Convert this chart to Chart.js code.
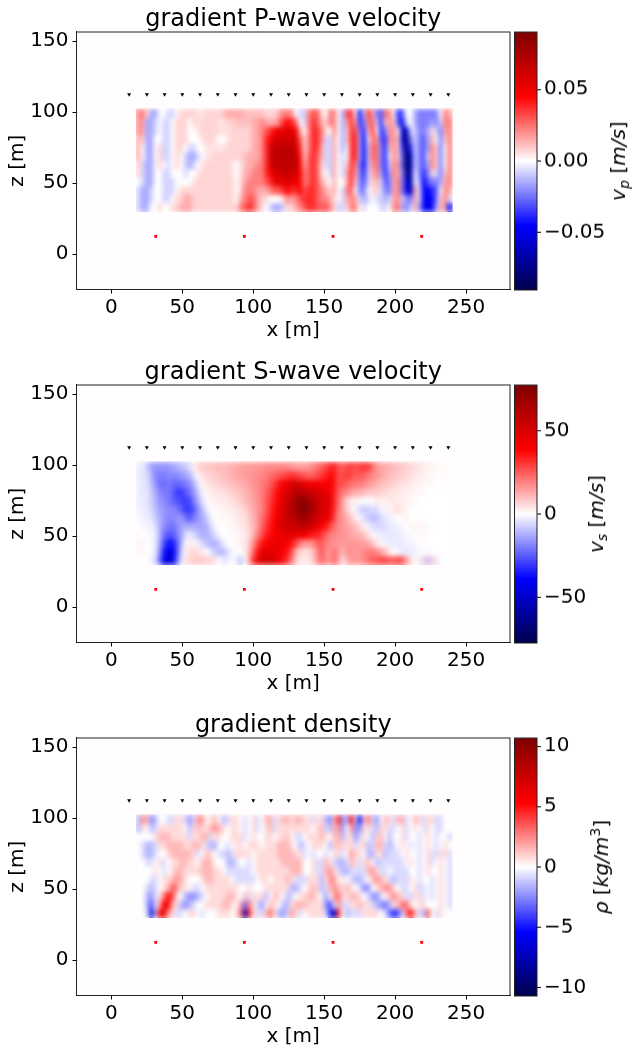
<!DOCTYPE html>
<html>
<head>
<meta charset="utf-8">
<title>gradients</title>
<script src="https://cdn.jsdelivr.net/npm/chart.js@4/dist/chart.umd.min.js"></script>
<style>
    html, body { margin: 0; padding: 0; background: #fff; }
    #page { position: relative; width: 640px; height: 1051px; overflow: hidden; }
    canvas { position: absolute; display: block; }
</style>
</head>
<body>
<div id="page"></div>
<script>
// 网格中心坐标 [m]
const xCells = [19.5,22.5,25.5,28.5,31.5,34.5,37.5,40.5,43.5,46.5,49.5,52.5,55.5,58.5,61.5,64.5,67.5,70.5,73.5,76.5,79.5,82.5,85.5,88.5,91.5,94.5,97.5,100.5,103.5,106.5,109.5,112.5,115.5,118.5,121.5,124.5,127.5,130.5,133.5,136.5,139.5,142.5,145.5,148.5,151.5,154.5,157.5,160.5,163.5,166.5,169.5,172.5,175.5,178.5,181.5,184.5,187.5,190.5,193.5,196.5,199.5,202.5,205.5,208.5,211.5,214.5,217.5,220.5,223.5,226.5,229.5,232.5,235.5,238.5];
const zCells = [99,93,87,81,75,69,63,57,51,45,39,33];

// 检波器和震源
const xReceivers = [12.5,25,37.5,50,62.5,75,87.5,100,112.5,125,137.5,150,162.5,175,187.5,200,212.5,225,237.5];
const zReceivers = [112.5,112.5,112.5,112.5,112.5,112.5,112.5,112.5,112.5,112.5,112.5,112.5,112.5,112.5,112.5,112.5,112.5,112.5,112.5];
const xSources = [31.25,93.75,156.25,218.75];
const zSources = [12.5,12.5,12.5,12.5];

// P 波速度梯度, 单位 0.0075 m/s
const gradP = [
[3,3,1,-2,-2,0,0,-1,-1,0,1,1,1,1,0.7,0.7,1,1,1,1,1.5,2,2,2,2,1.5,1.5,1.5,1.5,1.5,1,1,1,2,3,3, 3,0,-1,-1,3,4,4,1,0,3,3,0,-2,4,5,0,-6,-1,5,2,-3,-4,3,3,0,-5,-4,0,0,-2,-3,-3,-3,-3,-3,0,3,2],
[3,2,-2,-2,-1,0,-1,-1,0,1,1,1,0,1,0.7,1,1,1,1,0.7,0.7,1,1,1.5,1.5,1.5,1.5,2,2,3,2,2,2,3,5,6, 5,4,0,-1,3,5,4,2,1,3,3,0,-2,2,5,2,-5,-3,3,4,-1,-5,1,3,1,-4,-7,-1,0,-2,-3,-3,-3,-2,-3,-1,3,3],
[3,2,-2,-2,-1,0,-1,-1,0,1,1,1,0,0,0.7,1,1,1,1,0.7,0.7,0.7,1,1,1,1,1,2,2,3,4,5,6,7,7,8, 7,7,2,0,3,5,5,3,1,0,3,0,-2,1,5,4,-3,-5,1,5,0,-5,-3,2,3,0,-8,-8,-1,-1,-3,-3,-2,1,-1,-3,2,3],
[2,1,-2,-2,0,0,-1,-1,0,1,1,1,0,0,0,0.7,1,1,0.7,0,0,0.7,1,1,1,1,1,2,2,3,5,6,8,8,8,8, 8,8,4,1,3,5,5,3,-1,-1,2,0,-2,1,5,5,-2,-6,0,4,2,-4,-5,2,3,1,-7,-11,-3,-1,-3,-4,-2,2,0,-3,1,3],
[2,0,-2,-2,0,1,-1,-1,0,1,1,0,-1,-1,0,0,0.7,0.7,0.7,0.5,0.7,1,1,1,1,1,1,2,2,3,5,8,9,9,9,9, 9,8,5,1,3,5,5,2,-1,-1,2,0,-2,0,5,5,-2,-6,-1,4,3,-3,-5,1,3,1,-5,-11,-5,-1,-3,-4,-2,3,1,-3,0,3],
[2,0,-2,-2,0,1,-1,-1,0,1,0,-1,-2,-2,-1,0,0.7,0.7,1,1,1,1,1,1,1,1.5,2,2,2,3,5,8,9,9,9,9, 9,9,6,1,4,5,4,2,-1,-1,2,0,-1,0,5,5,-2,-6,-1,4,3,-3,-5,0,3,1,-4,-12,-7,-1,-3,-4,-1,3,1,-3,0,3],
[1,-1,-2,-2,0,1,0,-1,0,1,0,-1,-2,-1,0,0.7,1,1,1,1,1,1,0.7,0,0.7,1.5,2,2,3,3,5,8,9,9,9,9, 9,9,6,2,4,5,4,1,-1,-1,2,0,-1,1,5,3,-3,-6,-1,3,3,-3,-5,-1,3,2,-4,-12,-8,-1,-3,-4,-2,3,1,-3,0,3],
[1,-1,-2,-2,0,0,-1,-1,0,0,0,-1,0,0,0.7,1,1,1,1,1,1,1,0.7,0,0.7,2,2,3,3,3,5,6,8,8,8,9, 8,8,6,3,4,5,4,1,0,-1,2,0,-1,2,5,2,-3,-5,-1,2,3,-2,-5,-2,3,2,-3,-11,-8,0,-3,-5,-3,1,-1,-3,1,3],
[0,-1,-2,-2,0,0,-1,-1,-1,0,0,0,0,0.7,1,1,1,1,1,1,1,1,1,0,1,2,3,3,3,3,4,5,7,7,7,8, 7,7,6,3,4,5,4,2,1,0,2,0,0,2,5,1,-3,-4,-1,1,2,-1,-4,-3,2,3,-3,-8,-9,0,-2,-6,-4,-3,-3,-2,2,3],
[-1,-2,-2,-1,0,0,-1,-1,-1,0,1,1,1,1,1,1,1,1,1,1,1,1,1,0,1,3,3,3,2,2,2,3,4,4,5,6, 5,5,6,4,5,5,4,3,2,1,2,0,-1,3,4,0,-3,-3,0,1,1,-1,-3,-3,2,3,-3,-7,-8,2,-1,-6,-6,-5,-4,0,3,2],
[-1,-2,-2,-1,0,0,-1,-1,0,1,1,2,2,1,1,1,1,1,1,1,1,1,1,0,2,3,4,4,2,1,1,0,0,0,1,3, 2,3,4,5,5,5,4,3,3,2,1,0,-1,2,3,2,-1,-2,-1,0,-1,-1,-2,-1,2,3,-1,-3,-3,2,-1,-6,-7,-6,-3,1,3,-1],
[-1,-2,-2,0,0,1,0,0,1,1,2,2,2,1,1,1,1,1,1,1,1,1,1,1,3,4,5,4,2,1,0,-1,-2,-2,-1,1, 1,2,3,4,5,5,4,4,4,3,1,-1,-1,1,3,3,0,-1,0,0,0,-1,-1,0,3,3,-2,-3,-1,2,-2,-6,-7,-6,-2,2,2,-6]
];

// S 波速度梯度, 单位 m/s
const gradS = [
[-3,-3,-8,-14,-16,-16,-16,-16,-14,-12,-10,-8,-5,2,6,8,8,9,10,10,10,11,12,13,14,15,15,16,16,16,18,18,18,18,18,18, 16,15,15,15,16,18,22,24,28,32,34,26,24,28,30,26,30,30,30,22,16,14,12,12,10,9,8,7,6,5,4,3,2,2,1,0,1,0],
[-3,-4,-5,-12,-18,-20,-20,-18,-18,-18,-16,-14,-12,-4,1,5,6,7,8,9,10,11,12,13,14,15,16,16,18,18,20,22,24,26,28,30, 32,30,28,26,24,24,28,30,34,38,36,26,28,30,28,24,26,24,20,18,16,14,12,10,9,8,7,6,5,4,3,2,2,1,1,0,1,0],
[-3,-4,-4,-10,-16,-22,-22,-20,-22,-24,-22,-20,-18,-12,-3,2,4,5,6,7,8,9,10,11,12,13,15,16,18,20,22,25,30,36,42,46, 50,52,50,46,44,42,42,40,40,42,36,26,28,24,22,20,20,18,16,14,12,10,9,8,7,5,5,4,3,2,2,1,1,1,0,0,1,0],
[-3,-4,-4,-8,-13,-18,-20,-20,-24,-30,-30,-26,-22,-16,-8,-1,2,3,4,4,5,6,7,8,10,11,13,15,17,20,24,28,34,40,45,50, 56,62,60,58,56,54,52,48,46,44,34,24,20,18,14,12,12,10,8,8,8,7,6,5,4,3,3,2,2,1,1,1,0,0,0,0,0,0],
[-3,-3,-4,-7,-12,-16,-18,-20,-24,-26,-28,-30,-28,-20,-12,-5,0,2,2,3,3,4,5,6,8,10,12,14,17,20,25,30,36,42,48,54, 60,68,72,72,68,62,56,52,50,46,34,22,14,6,3,2,-1,0,-1,0,3,2,2,3,4,3,3,2,1,1,0,0,0,0,0,0,0,0],
[-2,-3,-4,-6,-10,-14,-16,-18,-18,-20,-24,-30,-30,-26,-16,-10,-3,0,1,1,2,2,3,4,5,7,10,13,16,20,25,32,38,44,50,56, 60,68,74,76,72,64,56,50,48,44,32,20,14,8,2,-2,-6,-8,-7,-5,-6,-1,-2,1,4,5,3,2,0,0,0,0,0,0,0,0,0,0],
[-1,-2,-3,-4,-8,-12,-16,-18,-18,-16,-16,-20,-26,-20,-16,-13,-8,-2,0,1,1,1,2,3,4,5,8,12,16,22,28,34,40,46,52,56, 58,62,66,68,64,58,52,48,46,42,28,18,16,12,8,3,-1,-5,-8,-10,-9,-6,-3,-3,-1,0,1,2,0,0,1,0,0,0,0,0,0,0],
[0,-1,-2,-2,-5,-12,-18,-20,-22,-18,-14,-12,-13,-12,-13,-14,-12,-6,-1,0,0,1,1,2,3,4,7,11,16,24,30,36,42,46,50,54, 52,54,58,58,54,50,46,40,36,28,22,18,16,14,12,10,6,2,-2,-5,-6,-6,-5,-3,-3,-2,-1,0,1,2,1,1,-1,0,0,0,0,0],
[1,0,-1,-1,-3,-12,-22,-26,-26,-20,-14,-6,-2,-6,-10,-12,-12,-10,-5,-1,0,0,1,1,2,3,6,12,20,28,34,38,42,44,46,48, 46,44,44,42,38,34,34,30,24,20,18,18,16,15,14,12,12,9,5,1,-2,-3,-3,-4,-3,-3,-2,-1,-1,0,1,2,0,0,0,0,0,0],
[2,1,0,-1,-3,-14,-28,-36,-36,-26,-12,-1,3,2,-2,-6,-9,-12,-12,-8,-3,0,0,1,2,4,8,18,28,36,40,42,44,44,42,42, 36,28,20,16,16,18,24,26,20,18,16,16,15,16,16,16,15,15,13,9,4,1,-2,-3,-3,-3,-3,-2,-2,-1,0,1,0,0,0,0,0,0],
[2,1,0,-1,-4,-18,-36,-46,-44,-28,-8,2,5,6,5,3,0,-4,-8,-11,-10,-5,-1,-1,0,3,10,24,36,44,48,48,46,44,40,36, 26,12,6,5,5,10,18,26,18,16,22,16,10,18,16,16,16,18,20,20,18,14,9,3,0,-2,-3,-3,-3,-2,-1,0,-1,0,0,0,0,0],
[0,0,0,-2,-6,-22,-40,-50,-44,-24,-4,4,6,8,8,8,7,6,4,0,-4,-3,0,-3,-10,0,14,32,44,52,54,52,48,42,36,30, 20,8,4,3,4,8,16,24,18,16,24,14,4,12,16,16,16,18,22,24,26,28,28,24,26,28,26,14,6,0,-3,8,-10,8,-4,0,0,0]
];

// 密度梯度, 单位 0.75 kg/m3
const gradRho = [
[-2,3,2,-3,-2,0,0,-1,-1,1,1,-1,-3,-1,3,3,0,1,2,0,-2,-1,1,1,0,-1,0,1,-1,0,2,2,-1,1,2,2, 1,2,2,1,1,-1,1,1,-2,-3,2,6,-3,-2,7,-1,-8,1,4,-1,-3,0,2,1,-1,2,2,-1,0,2,1,-1,1,1,-1,-1,0,0],
[-2,1,0,-2,-1,1,1,1,1,1,1,0,-2,1,2,1,1,2,3,2,1,0,1,1,0,-1,0,1,-1,0,1,2,-1,1,1,1, 1,1,1,1,1,0,1,2,-1,-2,2,3,-3,0,3,-3,-3,1,1,-1,-2,1,1,-1,-1,0,1,-1,0,1,0,-1,1,0,-1,-1,0,0],
[0,0,0,0,1,2,2,2,1,1,1,1,-1,1,1,2,2,-1,1,1,0,0,1,1,1,-1,0,1,0,0,1,1,0,1,1,2, 0,-1,-1,0,1,1,1,2,1,0,2,2,-2,1,1,-3,-1,1,0,-2,1,2,0,-2,0,0,1,-1,0,0,-1,0,1,0,-1,0,0,-1],
[0,-1,-2,-2,-1,1,1,2,2,2,2,1,1,2,2,1,-1,-2,-2,0,0,-1,0,1,1,0,1,1,1,0,1,1,1,2,2,2, 1,0,-2,-1,0,1,1,1,0,-2,1,2,1,1,1,-1,1,1,-2,-1,2,2,-1,-2,-1,0,1,0,-1,0,-1,0,1,0,-1,0,1,0],
[0,-1,-2,-2,-1,0,0,1,2,2,2,2,2,1,-1,0,2,1,0,-1,-1,-2,-1,1,1,1,1,0,1,1,1,1,1,2,2,2, 2,1,1,-1,0,-1,0,0,-1,0,1,1,-1,0,3,1,1,0,-2,-2,1,1,-2,-1,-1,-1,0,1,0,0,-1,0,1,-1,-1,1,1,-1],
[0,0,-1,-1,0,1,-1,0,1,1,2,2,1,1,0,2,2,2,0,0,0,-2,-2,-1,0,0,-1,0,1,1,1,1,1,1,2,2, 2,2,2,0,0,1,-1,-1,2,1,-1,-2,-2,-1,2,1,-1,1,2,0,-2,-1,-1,-1,-1,-1,-1,0,1,0,-1,0,1,-1,0,1,0,-1],
[0,0,0,0,1,0,-1,0,1,2,2,1,1,1,1,2,2,2,1,1,0,-1,-1,-1,-1,-1,-1,0,1,1,1,1,1,1,1,1, 2,2,2,0,0,1,-1,-1,2,3,1,-1,-2,-2,-1,-1,-1,-1,2,3,1,-1,-1,0,-1,-1,-1,-1,0,0,-1,0,1,0,0,1,0,-1],
[0,0,0,-1,-1,0,1,1,2,3,2,1,0,0,0,1,2,2,1,1,1,1,0,-1,-1,-1,-1,-1,0,1,1,0,1,1,1,2, 1,-1,-1,-1,1,1,1,-2,1,3,3,0,1,0,-1,-2,-2,-1,0,2,3,2,1,-1,-2,-1,-1,-1,1,0,-1,0,0,-1,0,1,0,-1],
[0,0,-1,-2,-1,0,1,2,5,3,1,1,0,-1,-1,0,1,1,1,1,1,1,1,1,0,0,1,0,0,0,1,1,1,1,1,1, -2,-2,-1,0,1,2,1,-2,-1,2,3,2,1,2,1,0,-1,-3,-3,0,1,2,3,3,1,0,-1,-1,0,1,-1,-1,0,-1,0,1,0,-1],
[0,0,-2,-3,-1,1,4,7,5,1,0,-2,-3,-3,-2,-1,0,1,1,1,1,2,2,1,0,2,-1,1,1,1,-2,0,2,1,0,-2, -1,0,1,1,2,2,1,0,-3,0,3,4,1,1,2,2,1,0,-1,-3,-3,-1,0,2,3,2,1,-1,-1,1,1,-1,0,-1,0,1,0,-1],
[0,0,-2,-5,-1,3,8,7,2,1,-2,-3,-2,-1,0,0,1,1,1,1,2,2,1,0,3,-4,4,1,-1,-3,0,2,1,0,-2,-2, 1,2,2,2,1,1,1,1,-3,-5,-1,3,-1,-1,1,1,2,1,1,-1,-2,-3,-4,-2,1,2,4,4,1,0,1,1,0,0,0,1,0,-1],
[0,0,-1,-9,-2,7,8,3,1,-1,-1,0,1,1,0,-1,0,0,0,1,1,1,0,1,4,-10,6,1,-1,-1,2,4,1,-2,-3,-1, 3,1,-1,0,1,1,1,1,-1,-6,-10,6,0,-2,-1,-1,-1,1,1,1,1,0,-1,-4,-6,-5,-1,4,7,2,-1,-2,5,0,-1,1,0,0]
];

const xTicks = [0,50,100,150,200,250];
const zTicks = [0,50,100,150];
const cbarTicksP = [-0.05,0,0.05];
const cbarTicksS = [-50,0,50];
const cbarTicksRho = [-10,-5,0,5,10];

const FONT = '"DejaVu Sans"';
Chart.defaults.font.family = FONT;
Chart.defaults.color = '#000';

// seismic 色表
const seismicStops = [[0,0,77],[0,0,255],[255,255,255],[255,0,0],[128,0,0]];
function seismic(f) {
    const t = Math.max(0, Math.min(1, f * 0.5 + 0.5)) * 4;
    const k = Math.min(3, Math.floor(t));
    const a = seismicStops[k], b = seismicStops[k + 1];
    const u = t - k;
    return `rgb(${a.map((c, n) => Math.round(c + (b[n] - c) * u)).join(',')})`;
}

// 绘图区背景、边框和数据区平滑
const framePlugin = {
    id: 'frame',
    beforeDatasetsDraw(chart, args, opts) {
        if (!opts.fill) return;
        const a = chart.chartArea;
        chart.ctx.fillStyle = opts.fill;
        chart.ctx.fillRect(a.left, a.top, a.right - a.left, a.bottom - a.top);
    },
    afterDatasetsDraw(chart, args, opts) {
        const ctx = chart.ctx, a = chart.chartArea;
        if (opts.blur) {
            const x0 = chart.scales.x.getPixelForValue(18);
            const x1 = chart.scales.x.getPixelForValue(240);
            const y0 = chart.scales.y.getPixelForValue(102.7);
            const y1 = chart.scales.y.getPixelForValue(30);
            ctx.save();
            ctx.beginPath();
            ctx.rect(x0, y0, x1 - x0, y1 - y0);
            ctx.clip();
            ctx.filter = `blur(${opts.blur}px)`;
            ctx.drawImage(chart.canvas, 0, 0);
            ctx.restore();
        }
        ctx.save();
        ctx.strokeStyle = '#222';
        ctx.lineWidth = 1;
        ctx.strokeRect(a.left, a.top, a.right - a.left, a.bottom - a.top);
        ctx.restore();
    }
};

// 色标标题 (带上下标)
const cbarLabelPlugin = {
    id: 'cbarLabel',
    afterDraw(chart, args, opts) {
        const ctx = chart.ctx;
        let total = 0;
        const setFont = r => { ctx.font = `${r.italic ? 'italic ' : ''}${r.size}px ${FONT}`; };
        opts.runs.forEach(r => { setFont(r); total += ctx.measureText(r.text).width; });
        ctx.save();
        ctx.translate(opts.x, chart.chartArea.top + (chart.chartArea.bottom - chart.chartArea.top) / 2);
        ctx.rotate(-Math.PI / 2);
        ctx.fillStyle = '#000';
        ctx.textBaseline = 'alphabetic';
        let pos = -total / 2;
        opts.runs.forEach(r => {
            setFont(r);
            ctx.fillText(r.text, pos, r.dy);
            pos += ctx.measureText(r.text).width;
        });
        ctx.restore();
    }
};

function addCanvas(left, top, w, h) {
    const c = document.createElement('canvas');
    c.width = w;
    c.height = h;
    c.style.left = left + 'px';
    c.style.top = top + 'px';
    c.style.width = w + 'px';
    c.style.height = h + 'px';
    document.getElementById('page').appendChild(c);
    return c;
}

function drawPanel(top, title, values, scale, vmax) {
    const datasets = zCells.map((z, r) => ({
        data: xCells.map(x => ({ x: x, y: [z - 3, z + 3] })),
        backgroundColor: ctx => seismic(values[r][ctx.dataIndex] * scale / vmax),
        borderWidth: 0,
        barThickness: 4.6,
        grouped: false
    }));
    datasets.push({
        type: 'scatter',
        data: xReceivers.map((x, i) => ({ x: x, y: zReceivers[i] })),
        backgroundColor: '#000',
        pointStyle: 'triangle',
        rotation: 180,
        pointRadius: 2.3,
        borderWidth: 0
    });
    datasets.push({
        type: 'scatter',
        data: xSources.map((x, i) => ({ x: x, y: zSources[i] })),
        backgroundColor: '#f00',
        pointStyle: 'rect',
        pointRadius: 2,
        borderWidth: 0
    });
    new Chart(addCanvas(0, top - 32, 514, 343), {
        type: 'bar',
        data: { datasets: datasets },
        plugins: [framePlugin],
        options: {
            responsive: false,
            animation: false,
            events: [],
            layout: { padding: { left: 0, right: 3.5, top: 0, bottom: 0 } },
            plugins: {
                legend: { display: false },
                tooltip: { enabled: false },
                frame: { fill: 'rgb(255,253,253)', blur: 2.6 },
                title: {
                    display: true,
                    text: title,
                    fullSize: false,
                    color: '#000',
                    font: { size: 24, weight: 'normal', lineHeight: 1.2 },
                    padding: { top: 5.2, bottom: -2 }
                }
            },
            scales: {
                x: {
                    type: 'linear',
                    min: -24.6,
                    max: 281,
                    offset: false,
                    afterFit: s => { s.height = 53.5; },
                    afterBuildTicks: s => { s.ticks = xTicks.map(v => ({ value: v })); },
                    grid: { drawOnChartArea: false, tickLength: 4, tickColor: '#000', offset: false },
                    border: { color: '#222' },
                    ticks: { font: { size: 20 }, padding: 2, maxRotation: 0, autoSkip: false },
                    title: { display: true, text: 'x [m]', font: { size: 20 }, padding: 0 }
                },
                y: {
                    min: -25,
                    max: 156.5,
                    afterFit: s => { s.width = 76.5; },
                    afterBuildTicks: s => { s.ticks = zTicks.map(v => ({ value: v })); },
                    grid: { drawOnChartArea: false, tickLength: 4, tickColor: '#000' },
                    border: { color: '#222' },
                    ticks: { font: { size: 20 }, padding: 4, autoSkip: false },
                    title: { display: true, text: 'z [m]', font: { size: 20 }, padding: { top: 6, bottom: 0 } }
                }
            }
        }
    });
}

function drawColorbar(top, vmax, ticks, fmt, labelX, runs) {
    new Chart(addCanvas(510, top - 12, 130, 281.5), {
        type: 'bar',
        data: {
            labels: [''],
            datasets: [{
                data: [[-vmax, vmax]],
                barPercentage: 1,
                categoryPercentage: 1,
                borderWidth: 0,
                backgroundColor: ctx => {
                    const a = ctx.chart.chartArea;
                    if (!a) return '#fff';
                    const g = ctx.chart.ctx.createLinearGradient(0, a.bottom, 0, a.top);
                    seismicStops.forEach((c, i) => g.addColorStop(i / 4, `rgb(${c.join(',')})`));
                    return g;
                }
            }]
        },
        plugins: [framePlugin, cbarLabelPlugin],
        options: {
            responsive: false,
            animation: false,
            events: [],
            layout: { padding: { left: 4.5, right: 0, top: 12, bottom: 12 } },
            plugins: {
                legend: { display: false },
                tooltip: { enabled: false },
                frame: {},
                cbarLabel: { x: labelX, runs: runs }
            },
            scales: {
                x: { display: false, offset: true },
                y: {
                    position: 'right',
                    min: -vmax,
                    max: vmax,
                    afterFit: s => { s.width = 103; s.paddingTop = 0; s.paddingBottom = 0; },
                    afterBuildTicks: s => { s.ticks = ticks.map(v => ({ value: v })); },
                    grid: { drawOnChartArea: false, tickLength: 4, tickColor: '#000' },
                    border: { display: false },
                    ticks: {
                        font: { size: 20 },
                        padding: 3,
                        autoSkip: false,
                        callback: fmt
                    }
                }
            }
        }
    });
}

const minus = s => s.replace('-', '\u2212');

drawPanel(32, 'gradient P-wave velocity', gradP, 0.0075, 0.0899);
drawPanel(385, 'gradient S-wave velocity', gradS, 1, 77.4);
drawPanel(738, 'gradient density', gradRho, 0.75, 10.67);

drawColorbar(32, 0.0899, cbarTicksP, v => minus(v.toFixed(2)), 115, [
    { text: 'v', italic: true, size: 20, dy: 0 },
    { text: 'p', italic: true, size: 14, dy: 4 },
    { text: ' [', italic: false, size: 20, dy: 0 },
    { text: 'm/s', italic: true, size: 20, dy: 0 },
    { text: ']', italic: false, size: 20, dy: 0 }
]);
drawColorbar(385, 77.4, cbarTicksS, v => minus(String(v)), 93, [
    { text: 'v', italic: true, size: 20, dy: 0 },
    { text: 's', italic: true, size: 14, dy: 4 },
    { text: ' [', italic: false, size: 20, dy: 0 },
    { text: 'm/s', italic: true, size: 20, dy: 0 },
    { text: ']', italic: false, size: 20, dy: 0 }
]);
drawColorbar(738, 10.67, cbarTicksRho, v => minus(String(v)), 98, [
    { text: '\u03c1', italic: true, size: 20, dy: 0 },
    { text: ' [', italic: false, size: 20, dy: 0 },
    { text: 'kg/m', italic: true, size: 20, dy: 0 },
    { text: '3', italic: false, size: 14, dy: -8 },
    { text: ']', italic: false, size: 20, dy: 0 }
]);
</script>
</body>
</html>
